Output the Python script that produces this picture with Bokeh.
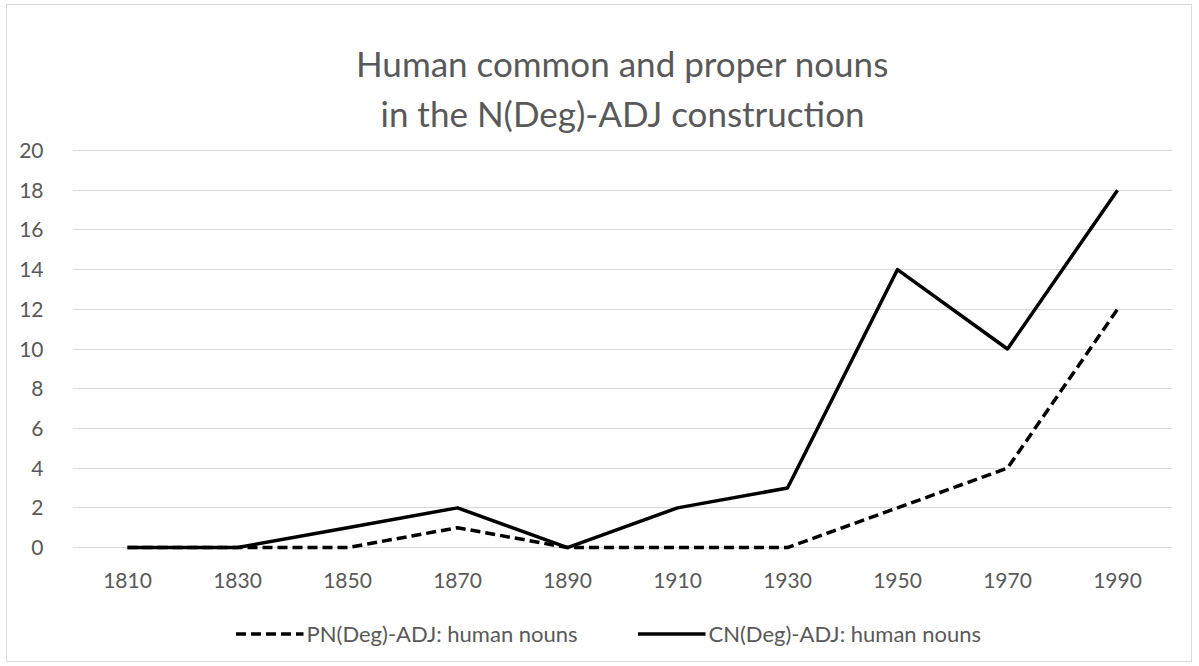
from bokeh.plotting import figure
from bokeh.layouts import column
from bokeh.models import (FactorRange, Range1d, FixedTicker, Legend, LegendItem,
                          Title)
from bokeh.embed import file_html
from bokeh.resources import INLINE

years = ["1810", "1830", "1850", "1870", "1890", "1910", "1930", "1950", "1970", "1990"]
pn_values = [0, 0, 0, 1, 0, 0, 0, 2, 4, 12]
cn_values = [0, 0, 1, 2, 0, 2, 3, 14, 10, 18]
y_ticks = [0, 2, 4, 6, 8, 10, 12, 14, 16, 18, 20]
title_line1 = "Human common and proper nouns"
title_line2 = "in the N(Deg)-ADJ construction"
pn_label = "PN(Deg)-ADJ: human nouns"
cn_label = "CN(Deg)-ADJ: human nouns"

FONT = "Lato"
GRAY = "#595959"
PN_STYLE = dict(line_color="black", line_width=3.5, line_dash="10 5", line_join="round")
CN_STYLE = dict(line_color="black", line_width=3.5, line_join="round")

# main chart
p = figure(width=1184, height=600, x_range=FactorRange(*years),
           y_range=Range1d(-0.5, 20.5), output_backend="svg",
           toolbar_location=None, min_border_left=65, min_border_right=19,
           min_border_top=135, min_border_bottom=48, title=None)
p.outline_line_color = None
p.background_fill_color = "white"

for txt, so in ((title_line2, 13), (title_line1, 0)):
    p.add_layout(Title(text=txt, align="center", text_font=FONT,
                       text_font_size="35px", text_font_style="normal",
                       text_color=GRAY, standoff=so), "above")

for ax in (p.xaxis[0], p.yaxis[0]):
    ax.axis_line_color = None
    ax.major_tick_line_color = None
    ax.minor_tick_line_color = None
    ax.major_label_text_font = FONT
    ax.major_label_text_font_size = "21px"
    ax.major_label_text_color = GRAY
p.yaxis.ticker = FixedTicker(ticks=y_ticks)
p.yaxis.major_label_standoff = 23
p.xaxis.major_label_standoff = 9

p.xgrid.grid_line_color = None
p.ygrid.grid_line_color = "#d9d9d9"
p.ygrid.grid_line_width = 1

p.line(years, pn_values, **PN_STYLE)
p.line(years, cn_values, **CN_STYLE)

# legend strip (its lines lie outside its visible range; only the legend shows)
p2 = figure(width=1184, height=56, x_range=Range1d(0, 1), y_range=Range1d(-200, -199),
            output_backend="svg", toolbar_location=None, min_border_left=65,
            min_border_right=19, min_border_top=0, min_border_bottom=0, title=None)
p2.axis.visible = False
p2.grid.visible = False
p2.outline_line_color = None
idx = list(range(len(years)))
l_pn = p2.line(idx, pn_values, **PN_STYLE)
l_cn = p2.line(idx, cn_values, **CN_STYLE)

lg = Legend(items=[LegendItem(label=pn_label, renderers=[l_pn]),
                   LegendItem(label=cn_label, renderers=[l_cn])],
            location="center", orientation="horizontal",
            border_line_color=None, background_fill_alpha=0,
            padding=0, margin=0, spacing=31, glyph_width=68, glyph_height=20,
            label_standoff=3, label_width=300, label_text_font=FONT,
            label_text_font_size="22px", label_text_color=GRAY)
p2.add_layout(lg, "center")

layout = column(p, p2, spacing=0)
layout.styles = {"outline": "1px solid #d9d9d9", "margin": "5px 0px 0px 7px"}

open("out.html", "w").write(file_html(layout, INLINE))
